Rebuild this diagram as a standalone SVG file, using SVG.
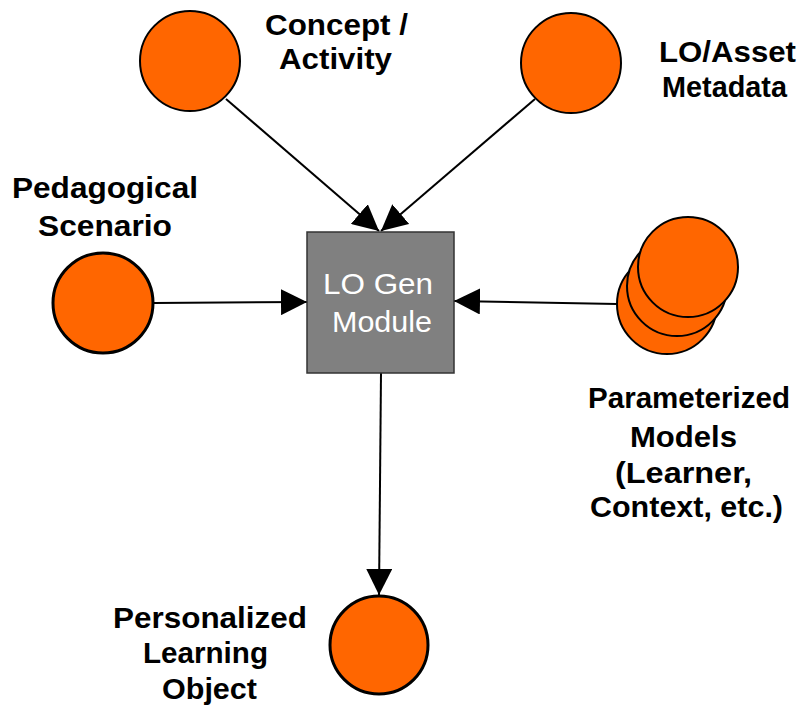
<svg xmlns="http://www.w3.org/2000/svg" width="801" height="709" viewBox="0 0 801 709">
<style>
.c{fill:#ff6600;stroke:#000;stroke-width:2}
.ct{fill:#ff6600;stroke:#000;stroke-width:3}
.lb{font-family:"Liberation Sans",Arial,sans-serif;font-weight:bold;font-size:29px;fill:#000;text-anchor:middle}
.bx{font-family:"Liberation Sans",Arial,sans-serif;font-size:30px;fill:#fff;text-anchor:middle}
.e{stroke:#000;stroke-width:2;fill:none;marker-end:url(#ah)}
</style>
<defs>
<marker id="ah" viewBox="0 0 26 26" refX="26" refY="13" markerWidth="26" markerHeight="26" markerUnits="userSpaceOnUse" orient="auto">
<path d="M0,0 L26,13 L0,26 Z" fill="#000"/>
</marker>
</defs>
<g id="connectors">
<line class="e" x1="226" y1="99" x2="379" y2="231"/>
<line class="e" x1="535" y1="99" x2="381" y2="231"/>
<line class="e" x1="154" y1="303" x2="307" y2="302"/>
<line class="e" x1="617" y1="304" x2="454" y2="301"/>
<line class="e" x1="381" y1="373" x2="379" y2="595"/>
</g>
<g id="concept">
<circle class="c" cx="190" cy="61" r="50"/>
<text class="lb" x="336.5" y="35" textLength="143" lengthAdjust="spacingAndGlyphs">Concept /</text>
<text class="lb" x="335.5" y="69" textLength="113" lengthAdjust="spacingAndGlyphs">Activity</text>
</g>
<g id="metadata">
<circle class="c" cx="571" cy="63" r="50"/>
<text class="lb" x="727.5" y="62" textLength="137" lengthAdjust="spacingAndGlyphs">LO/Asset</text>
<text class="lb" x="724.5" y="97" textLength="125" lengthAdjust="spacingAndGlyphs">Metadata</text>
</g>
<g id="pedagogical">
<circle class="ct" cx="103" cy="303" r="50"/>
<text class="lb" x="105" y="198" textLength="186" lengthAdjust="spacingAndGlyphs">Pedagogical</text>
<text class="lb" x="105" y="236" textLength="134" lengthAdjust="spacingAndGlyphs">Scenario</text>
</g>
<g id="logen">
<rect x="307" y="232" width="147" height="141" fill="#808080" stroke="#333" stroke-width="1.5"/>
<text class="bx" x="378" y="294" textLength="110" lengthAdjust="spacingAndGlyphs">LO Gen</text>
<text class="bx" x="382" y="332" textLength="100" lengthAdjust="spacingAndGlyphs">Module</text>
</g>
<g id="models">
<circle class="c" cx="667" cy="304" r="50"/>
<circle class="c" cx="677" cy="286" r="50"/>
<circle class="c" cx="688" cy="267" r="50"/>
<text class="lb" x="689" y="408" textLength="202" lengthAdjust="spacingAndGlyphs">Parameterized</text>
<text class="lb" x="683.5" y="447" textLength="107" lengthAdjust="spacingAndGlyphs">Models</text>
<text class="lb" x="683.5" y="483" textLength="137" lengthAdjust="spacingAndGlyphs">(Learner,</text>
<text class="lb" x="686.5" y="517" textLength="193" lengthAdjust="spacingAndGlyphs">Context, etc.)</text>
</g>
<g id="personalized">
<circle class="ct" cx="379" cy="645" r="49"/>
<text class="lb" x="210" y="628" textLength="194" lengthAdjust="spacingAndGlyphs">Personalized</text>
<text class="lb" x="205.5" y="663" textLength="125" lengthAdjust="spacingAndGlyphs">Learning</text>
<text class="lb" x="209.5" y="699" textLength="95" lengthAdjust="spacingAndGlyphs">Object</text>
</g>
</svg>
